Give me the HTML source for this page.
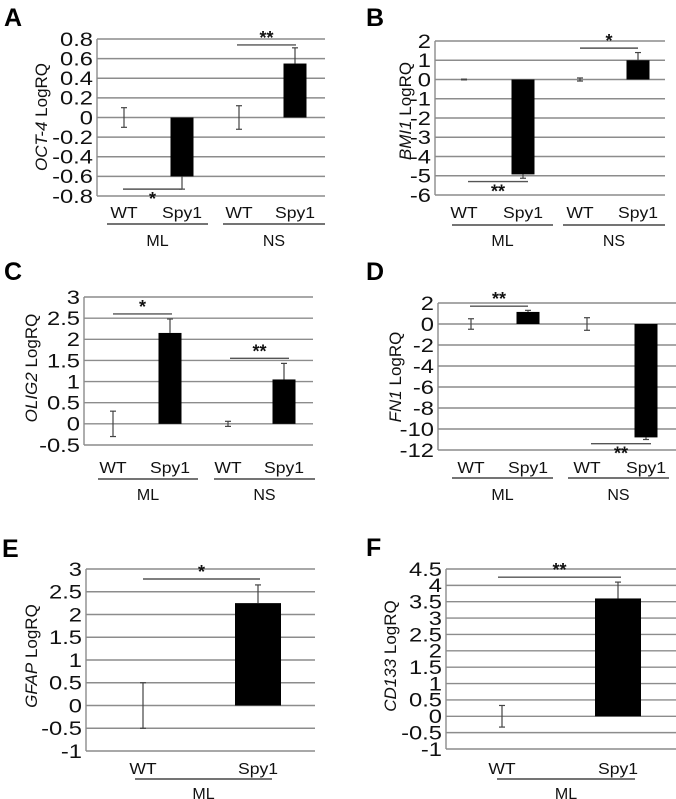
<!DOCTYPE html>
<html><head><meta charset="utf-8">
<style>
html,body{margin:0;padding:0;background:#fff;}
svg{display:block;font-family:"Liberation Sans",Arial,sans-serif;}
</style></head>
<body>
<svg id="fig" width="676" height="799" viewBox="0 0 676 799" xmlns="http://www.w3.org/2000/svg"></svg>
<script>
// Panel A
const aTicks=[0.8,0.6,0.4,0.2,0,-0.2,-0.4,-0.6,-0.8];
const aValues=[0,-0.6,0,0.55];
const aErrors=[0.1,0.13,0.12,0.16];
// Panel B
const bTicks=[2,1,0,-1,-2,-3,-4,-5,-6];
const bValues=[0,-4.93,0,1.0];
const bErrors=[0.02,0.2,0.08,0.4];
// Panel C
const cTicks=[3,2.5,2,1.5,1,0.5,0,-0.5];
const cValues=[0,2.15,0,1.05];
const cErrors=[0.3,0.33,0.06,0.38];
// Panel D
const dTicks=[2,0,-2,-4,-6,-8,-10,-12];
const dValues=[0,1.15,0,-10.8];
const dErrors=[0.5,0.15,0.6,0.2];
// Panel E
const eTicks=[3,2.5,2,1.5,1,0.5,0,-0.5,-1];
const eValues=[0,2.25];
const eErrors=[0.5,0.4];
// Panel F
const fTicks=[4.5,4,3.5,3,2.5,2,1.5,1,0.5,0,-0.5,-1];
const fValues=[0,3.6];
const fErrors=[0.33,0.5];
const categories4=["WT","Spy1","WT","Spy1"];
const categories2=["WT","Spy1"];
const groups2=["ML","NS"];
const groups1=["ML"];

const NS="http://www.w3.org/2000/svg";
const svg=document.getElementById('fig');
function mk(tag,attrs,parent,txt){const e=document.createElementNS(NS,tag);for(const k in attrs)e.setAttribute(k,attrs[k]);if(txt!==undefined)e.textContent=txt;(parent||svg).appendChild(e);return e;}

function panel(cfg){
  const g=mk('g',{});
  
  
  const lt=mk('text',{x:cfg.lx,y:cfg.ly,'font-size':25,'font-weight':'bold',fill:'#000'},g,cfg.letter);
  
  
  const tmax=cfg.ticks[0],tmin=cfg.ticks[cfg.ticks.length-1];
  const y=v=>cfg.top+(tmax-v)/(tmax-tmin)*(cfg.bottom-cfg.top);
  const fs=cfg.tfs||19;
  cfg.ticks.forEach(t=>{
    const l=mk('line',{x1:cfg.left,x2:cfg.right,y1:y(t),y2:y(t),stroke:'#8c8c8c','stroke-width':1.4},g);
    
    
    const tx=mk('text',{x:0,y:0,'font-size':fs,'text-anchor':'end',fill:'#111',transform:`translate(${cfg.left-4},${y(t)+fs*0.36}) scale(1.25,1)`},g,String(t));
    
    
  });
  const ax=mk('line',{x1:cfg.left,x2:cfg.left,y1:cfg.top,y2:cfg.bottom,stroke:'#8c8c8c','stroke-width':1.4},g);
  
  
  cfg.values.forEach((v,i)=>{
    const cx=cfg.xs[i];
    if(i%2===1){
      const top=Math.min(y(v),y(0)),h=Math.abs(y(v)-y(0));
      const r=mk('rect',{x:cx-cfg.bw/2,y:top,width:cfg.bw,height:h,fill:'#000'},g);
      
      
    }
    const e=cfg.errors[i];
    const y1=i%2===1?y(v):y(v+e), y2=i%2===1?y(v+Math.sign(v)*e):y(v-e);
    const eg=mk('g',{stroke:'#444','stroke-width':1.2},g);
    
    
    mk('line',{x1:cx,x2:cx,y1:y1,y2:y2},eg);
    mk('line',{x1:cx-3,x2:cx+3,y1:y2,y2:y2},eg);
    if(i%2===0) mk('line',{x1:cx-3,x2:cx+3,y1:y1,y2:y1},eg);
    const c=mk('text',{x:0,y:0,'font-size':16,'text-anchor':'middle',fill:'#111',transform:`translate(${cx},${cfg.catY}) scale(1.1,1)`},g,cfg.cats[i]);
    
    
  });
  cfg.groups.forEach((gr,i)=>{
    const [a,b]=cfg.gx[i];
    const l=mk('line',{x1:a,x2:b,y1:cfg.gLineY,y2:cfg.gLineY,stroke:'#222','stroke-width':1.3},g);
    
    
    const t=mk('text',{x:(a+b)/2,y:cfg.gY,'font-size':16,'text-anchor':'middle',fill:'#111'},g,gr);
    
    
  });
  cfg.sig.forEach(s=>{
    const l=mk('line',{x1:s.x1,x2:s.x2,y1:y(s.v),y2:y(s.v),stroke:'#555','stroke-width':1.4},g);
    
    
    const t=mk('text',{x:(s.x1+s.x2)/2,y:s.below?y(s.v)+16:y(s.v)-1,'font-size':18,'font-weight':'bold','text-anchor':'middle',fill:'#111'},g,s.t);
    
    
  });
  const yt=mk('text',{x:0,y:0,'font-size':17,'text-anchor':'middle',fill:'#111',transform:`translate(${cfg.tx},${cfg.ty}) rotate(-90)`},g);
  
  
  mk('tspan',{'font-style':'italic'},yt,cfg.gene);
  mk('tspan',{},yt,' LogRQ');
}

panel({letter:'A',lx:4,ly:26,ticks:aTicks,values:aValues,errors:aErrors,top:39,bottom:196,left:97,right:325,
  xs:[124,182,239,295],bw:23,cats:categories4,catY:218,groups:groups2,gx:[[107,208],[223,325]],gLineY:224,gY:246,
  sig:[{x1:123,x2:182,v:-0.73,t:'*',below:true},{x1:237,x2:296,v:0.74,t:'**'}],gene:'OCT-4',tx:47,ty:117});
panel({letter:'B',lx:366,ly:26,ticks:bTicks,values:bValues,errors:bErrors,top:41,bottom:195,left:435,right:665,
  xs:[464,523,580,638],bw:23,cats:categories4,catY:218,groups:groups2,gx:[[452,553],[563,665]],gLineY:225,gY:246,
  sig:[{x1:468,x2:528,v:-5.3,t:'**',below:true},{x1:580,x2:638,v:1.63,t:'*'}],gene:'BMI1',tx:411,ty:111});
panel({letter:'C',lx:4,ly:280,ticks:cTicks,values:cValues,errors:cErrors,top:297,bottom:445,left:84,right:313,
  xs:[113,170,228,284],bw:23,cats:categories4,catY:473,groups:groups2,gx:[[98,198],[214,315]],gLineY:479,gY:500,
  sig:[{x1:113,x2:172,v:2.6,t:'*'},{x1:230,x2:289,v:1.55,t:'**'}],gene:'OLIG2',tx:37,ty:368});
panel({letter:'D',lx:366,ly:280,ticks:dTicks,values:dValues,errors:dErrors,top:303,bottom:450,left:438,right:676,
  xs:[471,528,587,646],bw:23,cats:categories4,catY:473,groups:groups2,gx:[[452,553],[568,669]],gLineY:478,gY:500,
  sig:[{x1:470,x2:528,v:1.7,t:'**'},{x1:591,x2:651,v:-11.4,t:'**',below:true}],gene:'FN1',tx:401,ty:377});
panel({letter:'E',lx:2,ly:557,ticks:eTicks,values:eValues,errors:eErrors,top:569,bottom:751,left:86,right:315,
  xs:[143,258],bw:46,cats:categories2,catY:774,groups:groups1,gx:[[135,272]],gLineY:779,gY:799,
  sig:[{x1:143,x2:260,v:2.78,t:'*'}],gene:'GFAP',tx:37,ty:656});
panel({letter:'F',lx:366,ly:556,ticks:fTicks,values:fValues,errors:fErrors,top:569,bottom:749,left:446,right:676,
  xs:[502,618],bw:46,cats:categories2,catY:774,groups:groups1,gx:[[497,635]],gLineY:779,gY:799,tfs:19,
  sig:[{x1:498,x2:621,v:4.25,t:'**'}],gene:'CD133',tx:396,ty:656});
</script>
</body></html>
